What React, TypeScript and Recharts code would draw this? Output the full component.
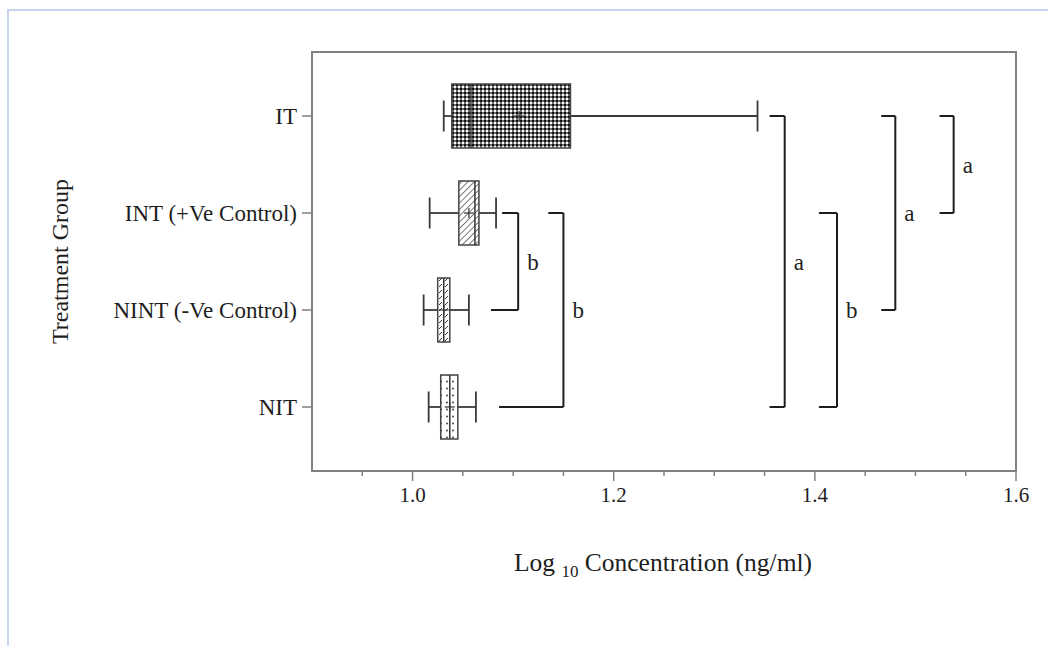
import { ComposedChart, XAxis, YAxis, ReferenceArea, ReferenceLine, Scatter } from "recharts"

// groups bottom -> top (y = 1..4)
const groups = ["NIT", "NINT (-Ve Control)", "INT (+Ve Control)", "IT"]
const groupPos = [1, 2, 3, 4]
const whiskerLow = [1.016, 1.011, 1.017, 1.031]
const q1 = [1.028, 1.025, 1.046, 1.039]
const median = [1.037, 1.031, 1.062, 1.058]
const q3 = [1.045, 1.037, 1.066, 1.157]
const whiskerHigh = [1.063, 1.056, 1.083, 1.343]
const means = [1.037, 1.031, 1.056, 1.106]

// significance brackets
const bracketTop = [3, 3, 4, 3, 4, 4]
const bracketBottom = [2, 1, 1, 1, 2, 3]
const bracketX = [1.105, 1.15, 1.37, 1.422, 1.48, 1.538]
const bracketTopStart = [1.089, 1.135, 1.355, 1.404, 1.466, 1.524]
const bracketBottomStart = [1.078, 1.086, 1.355, 1.404, 1.466, 1.524]
const bracketLetters = ["b", "b", "a", "b", "a", "a"]

const xTicks = [0.95, 1, 1.05, 1.1, 1.15, 1.2, 1.25, 1.3, 1.35, 1.4, 1.45, 1.5, 1.55, 1.6]
const xLabelTicks = [1, 1.2, 1.4, 1.6]

const FONT = "'Liberation Serif', 'Times New Roman', serif"
const AXIS = "#808080"
const INK = "#1e1e1e"
const patternIds = ["pDots", "pDash", "pHatch", "pCheck"]
const BOX_HALF = 0.33
const CAP_HALF = 0.16

const meanData = means.map((m, i) => ({ x: m, y: groupPos[i] }))
const letterData = bracketLetters.map((l, i) => ({
  x: bracketX[i],
  y: (bracketTop[i] + bracketBottom[i]) / 2,
  letter: l,
}))

const XTick = (props: any) => {
  const { x, y, payload } = props
  const v = payload.value
  const major = xLabelTicks.some((m) => Math.abs(m - v) < 1e-6)
  return (
    <g>
      <line x1={x} x2={x} y1={y} y2={y + (major ? 10 : 5)} stroke={AXIS} strokeWidth={1.5} />
      {major && (
        <text x={x} y={y + 31} textAnchor="middle" fontFamily={FONT} fontSize={21} fill={INK}>
          {v.toFixed(1)}
        </text>
      )}
    </g>
  )
}

const YTick = (props: any) => {
  const { x, y, payload } = props
  return (
    <g>
      <line x1={x - 10} x2={x} y1={y} y2={y} stroke={AXIS} strokeWidth={1.5} />
      <text x={x - 15} y={y} dy="0.35em" textAnchor="end" fontFamily={FONT} fontSize={23} fill={INK}>
        {groups[payload.value - 1]}
      </text>
    </g>
  )
}

const XTitle = (props: any) => {
  const vb = props.viewBox || { x: 312, y: 471, width: 704 }
  return (
    <text x={vb.x + vb.width / 2 - 1} y={vb.y + 100} textAnchor="middle" fontFamily={FONT} fontSize={25.5} fill={INK}>
      <tspan>Log </tspan>
      <tspan fontSize={17} dy={6}>10</tspan>
      <tspan dy={-6}> Concentration (ng/ml)</tspan>
    </text>
  )
}

const YTitle = (props: any) => {
  const vb = props.viewBox || { x: 32, y: 52, width: 280, height: 419 }
  const cy = vb.y + vb.height / 2
  return (
    <text x={68} y={cy} transform={`rotate(-90 68 ${cy})`} textAnchor="middle" fontFamily={FONT} fontSize={24} fill={INK}>
      Treatment Group
    </text>
  )
}

const MeanMark = (props: any) => {
  const { cx, cy } = props
  return (
    <g stroke="#333" strokeWidth={1.2}>
      <line x1={cx - 5} x2={cx + 5} y1={cy} y2={cy} />
      <line x1={cx} x2={cx} y1={cy - 5} y2={cy + 5} />
    </g>
  )
}

const Letter = (props: any) => {
  const { cx, cy, payload } = props
  return (
    <text x={cx + 9} y={cy} dy="0.35em" fontFamily={FONT} fontSize={23} fill={INK}>
      {payload.letter}
    </text>
  )
}

const Patterns = () => (
  <svg width={0} height={0} style={{ position: "absolute" }}>
    <defs>
      <pattern id="pCheck" width={4} height={4} patternUnits="userSpaceOnUse">
        <rect width={4} height={4} fill="#6e6e6e" />
        <rect x={0} y={0} width={2} height={2} fill="#111" />
        <rect x={2} y={2} width={2} height={2} fill="#fafafa" />
      </pattern>
      <pattern id="pHatch" width={4.5} height={4.5} patternUnits="userSpaceOnUse" patternTransform="rotate(45)">
        <rect width={4.5} height={4.5} fill="#fff" />
        <line x1={0} y1={0} x2={0} y2={4.5} stroke="#333" strokeWidth={1.3} />
      </pattern>
      <pattern id="pDash" width={6} height={6} patternUnits="userSpaceOnUse">
        <rect width={6} height={6} fill="#fff" />
        <line x1={1} y1={5} x2={4} y2={2} stroke="#333" strokeWidth={1} />
      </pattern>
      <pattern id="pDots" width={6} height={7} patternUnits="userSpaceOnUse">
        <rect width={6} height={7} fill="#fff" />
        <circle cx={3} cy={3.5} r={0.9} fill="#333" />
      </pattern>
    </defs>
  </svg>
)

export default function App() {
  const line = { stroke: "#3a3a3a", strokeWidth: 1.8 }
  const bracket = { stroke: INK, strokeWidth: 2 }
  return (
    <div style={{ position: "fixed", left: 0, top: 0, width: 1048, height: 646, overflow: "hidden", background: "#fff" }}>
      <Patterns />
      <div
        style={{
          position: "absolute",
          left: 7,
          top: 9,
          width: 1100,
          height: 700,
          borderTop: "2px solid #c8d5f0",
          borderLeft: "2px solid #c8d5f0",
        }}
      />
      <div style={{ position: "absolute", left: 0, top: 0 }}>
        <ComposedChart width={1048} height={646} margin={{ top: 52, right: 32, bottom: 115, left: 32 }}>
          <XAxis
            type="number"
            dataKey="x"
            domain={[0.9, 1.6]}
            ticks={xTicks}
            interval={0}
            height={60}
            tickSize={0}
            tickMargin={0}
            tickLine={false}
            tick={XTick}
            axisLine={{ stroke: AXIS, strokeWidth: 2 }}
            allowDataOverflow
            label={{ content: XTitle }}
          />
          <YAxis
            type="number"
            dataKey="y"
            domain={[0.34, 4.66]}
            ticks={groupPos}
            interval={0}
            width={280}
            tickSize={0}
            tickMargin={0}
            tickLine={false}
            tick={YTick}
            axisLine={{ stroke: AXIS, strokeWidth: 2 }}
            allowDataOverflow
            label={{ content: YTitle }}
          />
          <ReferenceArea x1={0.9} x2={1.6} y1={0.34} y2={4.66} fill="none" stroke={AXIS} strokeWidth={2} ifOverflow="visible" />

          {groupPos.map((g, i) => (
            <ReferenceLine key={`wl${i}`} segment={[{ x: whiskerLow[i], y: g }, { x: q1[i], y: g }]} {...line} />
          ))}
          {groupPos.map((g, i) => (
            <ReferenceLine key={`wh${i}`} segment={[{ x: q3[i], y: g }, { x: whiskerHigh[i], y: g }]} {...line} />
          ))}
          {groupPos.map((g, i) => (
            <ReferenceLine key={`cl${i}`} segment={[{ x: whiskerLow[i], y: g - CAP_HALF }, { x: whiskerLow[i], y: g + CAP_HALF }]} {...line} />
          ))}
          {groupPos.map((g, i) => (
            <ReferenceLine key={`ch${i}`} segment={[{ x: whiskerHigh[i], y: g - CAP_HALF }, { x: whiskerHigh[i], y: g + CAP_HALF }]} {...line} />
          ))}
          {groupPos.map((g, i) => (
            <ReferenceArea
              key={`box${i}`}
              x1={q1[i]}
              x2={q3[i]}
              y1={g - BOX_HALF}
              y2={g + BOX_HALF}
              fill={`url(#${patternIds[i]})`}
              fillOpacity={1}
              stroke="#444"
              strokeWidth={1.5}
            />
          ))}
          {groupPos.map((g, i) => (
            <ReferenceLine key={`med${i}`} segment={[{ x: median[i], y: g - BOX_HALF }, { x: median[i], y: g + BOX_HALF }]} stroke="#333" strokeWidth={1.5} />
          ))}

          {bracketX.map((bx, i) => (
            <ReferenceLine key={`bt${i}`} segment={[{ x: bracketTopStart[i], y: bracketTop[i] }, { x: bx, y: bracketTop[i] }]} {...bracket} />
          ))}
          {bracketX.map((bx, i) => (
            <ReferenceLine key={`bv${i}`} segment={[{ x: bx, y: bracketTop[i] }, { x: bx, y: bracketBottom[i] }]} {...bracket} />
          ))}
          {bracketX.map((bx, i) => (
            <ReferenceLine key={`bb${i}`} segment={[{ x: bracketBottomStart[i], y: bracketBottom[i] }, { x: bx, y: bracketBottom[i] }]} {...bracket} />
          ))}

          <Scatter data={meanData} shape={MeanMark} isAnimationActive={false} />
          <Scatter data={letterData} shape={Letter} isAnimationActive={false} />
        </ComposedChart>
      </div>
    </div>
  )
}
